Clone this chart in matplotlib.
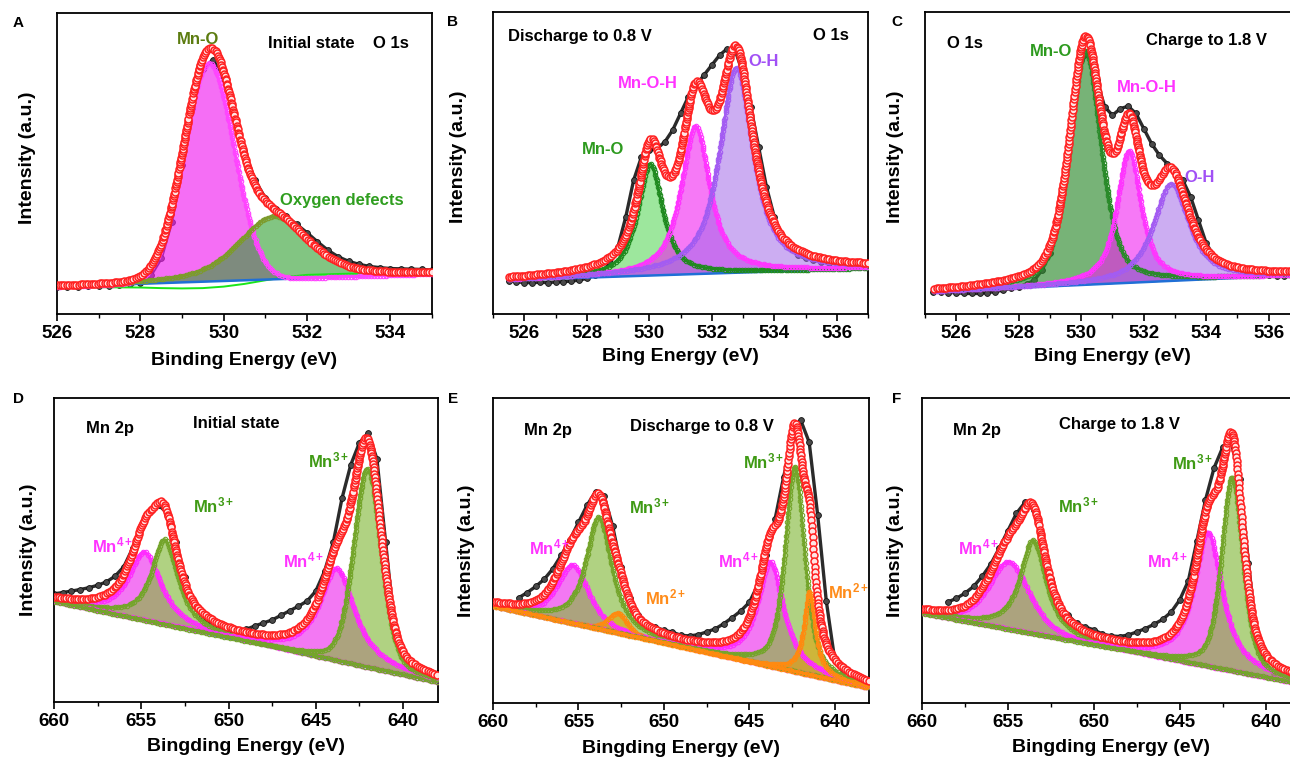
import numpy as np
import matplotlib
matplotlib.use('Agg')
import matplotlib.pyplot as plt
from matplotlib.ticker import MultipleLocator

plt.rcParams['font.family'] = ['Liberation Sans', 'DejaVu Sans']
plt.rcParams['font.weight'] = 'bold'
plt.rcParams['mathtext.fontset'] = 'custom'
plt.rcParams['mathtext.rm'] = 'Liberation Sans:bold'
plt.rcParams['mathtext.it'] = 'Liberation Sans:bold'
plt.rcParams['mathtext.bf'] = 'Liberation Sans:bold'

# O 1s, every 0.25 eV
A_range = [526.0, 535.0]
A_counts = [8.9, 9.0, 9.1, 9.2, 9.3, 9.4, 9.6, 9.9, 10.4, 12.8, 18.5, 30.5, 49.5,
            68.5, 81.5, 84.5, 78.0, 66.5, 54.0, 44.5, 38.5, 35.0, 32.5, 29.8, 27.0,
            24.0, 21.2, 19.0, 17.5, 16.5, 15.8, 15.4, 15.1, 15.0, 14.9, 14.8, 14.6]
B_range = [525.5, 537.0]
B_counts = [11.0, 10.7, 10.4, 10.4, 10.5, 10.4, 10.6, 10.7, 10.9, 11.2, 11.8,
            12.8, 14.3, 16.8, 22.3, 32.2, 44.3, 52.0, 54.2, 54.8, 57.0, 60.9, 66.4,
            71.9, 75.7, 79.1, 82.4, 85.7, 87.9, 87.3, 79.6, 68.6, 55.3, 42.1, 32.2,
            25.6, 21.7, 19.5, 18.4, 17.9, 17.3, 17.0, 16.8, 16.6, 16.5, 16.4, 16.4]
C_range = [525.25, 537.0]
C_counts = [7.4, 7.2, 7.1, 7.1, 6.8, 6.8, 6.8, 7.1, 7.4, 7.9, 8.5, 9.0,
            9.9, 11.2, 14.6, 20.1, 32.0, 49.5, 70.5, 84.0, 86.0, 77.4, 68.6, 65.8,
            68.0, 68.8, 66.4, 61.4, 56.4, 52.6, 49.8, 47.6, 44.3, 38.8, 31.1, 23.4,
            19.0, 16.8, 15.7, 14.8, 14.4, 14.0, 13.4, 12.9, 12.7, 12.6, 12.6, 12.6]
# Mn 2p, every 0.5 eV
D_range = [660.0, 638.0]
D_counts = [35.6, 36.0, 36.5, 37.0, 37.6, 38.4, 39.5, 41.4, 44.5, 50.5,
            57.5, 62.6, 64.8, 62.0, 52.5, 41.0, 32.0, 27.8, 25.6, 24.5,
            23.8, 23.4, 23.9, 25.0, 26.0, 27.0, 28.5, 30.0, 31.5, 33.2,
            36.5, 43.0, 52.5, 67.0, 78.0, 85.3, 88.5, 80.0, 52.5, 25.0,
            14.5, 12.3, 11.2, 10.2, 9.5]
E_range = [658.5, 639.5]
E_counts = [34.5, 36.2, 38.2, 40.6, 44.0, 48.5, 53.5, 59.2, 64.8, 69.3,
            68.0, 58.0, 44.5, 34.5, 29.0, 26.0, 24.8, 23.9, 23.2, 22.2,
            22.0, 22.4, 23.3, 24.3, 26.0, 28.0, 30.2, 33.0, 38.8, 48.6,
            60.2, 74.0, 86.5, 92.8, 85.5, 61.5, 33.5, 14.0, 10.5]
F_range = [658.5, 639.5]
F_counts = [33.1, 34.3, 36.0, 38.2, 41.5, 45.5, 50.8, 56.5, 62.2, 65.8,
            63.2, 52.5, 40.8, 32.8, 28.8, 26.1, 24.9, 24.0, 22.6, 22.0,
            21.8, 22.3, 23.3, 24.4, 25.8, 27.4, 29.8, 33.8, 40.0, 53.2,
            66.6, 77.1, 83.8, 85.5, 73.5, 46.0, 20.5, 12.0, 10.0]

# ---- fitted components (centre eV, height, FWHM eV, Lorentz fraction) ----
A_fit = [526.0, 535.0]
A_background = [9.1, 13.3]
A_kind = ['mno_a', 'defect']
A_pos = [529.65, 531.2]
A_height = [72.5, 20.9]
A_fwhm = [1.42, 2.0]
A_eta = [0.0, 0.5]
A_shirley_e = [526, 527, 528, 528.5, 529, 529.5, 530, 530.5, 531, 531.5, 532, 533, 535]
A_shirley = [9.0, 8.9, 8.8, 8.6, 8.5, 8.6, 9.1, 10.0, 11.2, 12.3, 13.0, 13.4, 13.4]

B_fit = [525.5, 537.0]
B_background = [11.2, 15.1]
B_kind = ['mno_b', 'mnoh', 'oh']
B_pos = [530.03, 531.48, 532.79]
B_height = [37.0, 49.0, 68.0]
B_fwhm = [0.96, 1.10, 1.28]
B_eta = [0.8, 0.85, 0.85]

C_fit = [525.3, 537.0]
C_background = [7.4, 12.9]
C_kind = ['mno_c', 'mnoh', 'oh']
C_pos = [530.13, 531.53, 532.88]
C_height = [77.6, 43.8, 32.2]
C_fwhm = [1.2, 0.92, 1.35]
C_eta = [0.5, 0.8, 0.8]

D_fit = [660.0, 638.0]
D_background = [33.0, 6.5]
D_kind = ['mn4', 'mn3', 'mn4', 'mn3']
D_pos = [654.8, 653.66, 643.79, 642.04]
D_height = [22.6, 28.1, 30.5, 65.5]
D_fwhm = [2.2, 1.8, 2.4, 1.85]
D_eta = [0.9, 0.9, 0.9, 0.3]

E_fit = [660.0, 638.0]
E_background = [31.8, 5.0]
E_kind = ['mn4', 'mn3', 'mn2', 'mn4', 'mn3', 'mn2']
E_pos = [655.32, 653.8, 652.69, 643.76, 642.33, 641.46]
E_height = [19.1, 36.7, 6.6, 34.3, 67.3, 27.3]
E_fwhm = [2.2, 1.8, 1.3, 1.8, 1.36, 0.78]
E_eta = [0.6, 0.85, 0.5, 0.9, 0.6, 1.0]

F_fit = [660.0, 638.0]
F_background = [29.4, 6.3]
F_kind = ['mn4', 'mn3', 'mn4', 'mn3']
F_pos = [654.92, 653.53, 643.35, 641.94]
F_height = [22.2, 30.8, 44.2, 63.7]
F_fwhm = [2.8, 1.8, 1.95, 1.46]
F_eta = [0.5, 0.9, 0.9, 0.5]

# line colour, fill colour, fill alpha
STYLE = {
    'mno_a': ('#ff45ff', '#f020f0', 0.65),
    'defect': ('#7d9b2c', '#2f9f2f', 0.6),
    'mno_b': ('#1f8a1f', '#3cd03c', 0.5),
    'mno_c': ('#2a8a2a', '#2e8b2e', 0.65),
    'mnoh': ('#ff35ff', '#f020f0', 0.6),
    'oh': ('#a35cf2', '#a36ae8', 0.55),
    'mn4': ('#ff2cff', '#ee30ee', 0.65),
    'mn3': ('#74a52b', '#86bb40', 0.65),
    'mn2': ('#ff8a10', '#e8a000', 0.55),
}

W, H = 1290.0, 760.0
fig = plt.figure(figsize=(12.9, 7.6), dpi=100)


def add_axes(left, top, right, bottom):
    return fig.add_axes([left / W, 1 - bottom / H, (right - left) / W, (bottom - top) / H])


def label(x, y, s, color='black', size=12, ha='left'):
    fig.text(x / W, 1 - y / H, s, color=color, fontsize=size, fontweight='bold', ha=ha, va='center')


def pvoigt(x, c, h, w, eta):
    g = np.exp(-4 * np.log(2) * ((x - c) / w) ** 2)
    l = 1 / (1 + 4 * ((x - c) / w) ** 2)
    return h * (eta * l + (1 - eta) * g)


def spectrum(ax, e_range, counts, fit, background, kinds, pos, height, fwhm, eta):
    energy = np.linspace(e_range[0], e_range[1], len(counts))
    ax.plot(energy, counts, color='#2b2b2b', lw=2.4, marker='o', ms=4.2, mfc='#4a4a4a',
            mec='#111111', mew=0.6, zorder=2)
    x = np.linspace(fit[0], fit[1], 900)
    bg = background[0] + (background[1] - background[0]) * (x - fit[0]) / (fit[1] - fit[0])
    total = bg.copy()
    comps = []
    for k, c, h, w, e in zip(kinds, pos, height, fwhm, eta):
        y = pvoigt(x, c, h, w, e)
        total = total + y
        line, fill, alpha = STYLE[k]
        ax.fill_between(x, bg, bg + y, color=fill, alpha=alpha, lw=0, zorder=3)
        comps.append((y, line))
    ax.plot(x, bg, color='#1f6fd6', lw=1.8, zorder=4)
    for y, line in comps:
        ax.plot(x, bg + y, color=line, lw=1.9, marker='o', ms=3.2, mfc='none', mew=0.8,
                markevery=0.006, zorder=4)
    ax.plot(x, total, color='#ff2020', lw=1.8, marker='o', ms=5, mfc='#ffe4e4', mec='#ff2020',
            mew=1.1, markevery=0.005, zorder=5)


def style(ax, xlim, major, xlabel, xlab_y, ylab_xy):
    ax.set_xlim(*xlim)
    ax.set_ylim(0, 100)
    ax.set_yticks([])
    ax.xaxis.set_major_locator(MultipleLocator(major))
    ax.xaxis.set_minor_locator(MultipleLocator(major / 2))
    ax.tick_params(axis='x', which='major', direction='out', length=5, width=1.2, labelsize=13.5, pad=3)
    ax.tick_params(axis='x', which='minor', direction='out', length=3, width=1.0)
    for s in ax.spines.values():
        s.set_linewidth(1.3)
    ax.set_xlabel(xlabel, fontsize=14, fontweight='bold', va='center')
    ax.xaxis.set_label_coords(0.5, xlab_y)
    ax.set_ylabel('Intensity (a.u.)', fontsize=14, fontweight='bold', va='center')
    ax.yaxis.set_label_coords(*ylab_xy)


GREEN = '#3f9a14'
MAG = '#ff33ff'
VIOLET = '#a150f5'
ORANGE = '#ff8c1a'

# ---- A ----
ax = add_axes(57, 13, 432, 314)
spectrum(ax, A_range, A_counts, A_fit, A_background, A_kind, A_pos, A_height, A_fwhm, A_eta)
ax.plot(A_shirley_e, A_shirley, color='#19e619', lw=1.4, zorder=3.5)
style(ax, (526, 535), 2, 'Binding Energy (eV)', -0.153, (-0.08, 0.52))
label(18, 23, 'A', size=11, ha='center')
label(198, 40, 'Mn-O', color='#5c7c10', ha='center')
label(268, 44, 'Initial state')
label(373, 44, 'O 1s')
label(280, 200, 'Oxygen defects', color='#2f9e1f')

# ---- B ----
ax = add_axes(493, 12, 868, 314)
spectrum(ax, B_range, B_counts, B_fit, B_background, B_kind, B_pos, B_height, B_fwhm, B_eta)
style(ax, (525, 537), 2, 'Bing Energy (eV)', -0.141, (-0.093, 0.52))
label(453, 22, 'B', size=11, ha='center')
label(508, 36, 'Discharge to 0.8 V')
label(813, 35, 'O 1s')
label(618, 83, 'Mn-O-H', color=MAG)
label(748, 61, 'O-H', color=VIOLET)
label(582, 149, 'Mn-O', color='#2d9a1e')

# ---- C ----
ax = add_axes(925, 12, 1300, 314)
spectrum(ax, C_range, C_counts, C_fit, C_background, C_kind, C_pos, C_height, C_fwhm, C_eta)
style(ax, (525, 537), 2, 'Bing Energy (eV)', -0.141, (-0.08, 0.52))
label(897, 22, 'C', size=11, ha='center')
label(947, 43, 'O 1s')
label(1030, 52, 'Mn-O', color='#2d9a1e')
label(1146, 40, 'Charge to 1.8 V')
label(1117, 88, 'Mn-O-H', color=MAG)
label(1184, 178, 'O-H', color=VIOLET)

# ---- D ----
ax = add_axes(54, 398, 438, 702)
spectrum(ax, D_range, D_counts, D_fit, D_background, D_kind, D_pos, D_height, D_fwhm, D_eta)
style(ax, (660, 638), 5, 'Bingding Energy (eV)', -0.147, (-0.067, 0.5))
label(18, 399, 'D', size=11, ha='center')
label(86, 428, 'Mn 2p')
label(193, 424, 'Initial state')
label(308, 460, r'Mn$^{3+}$', color=GREEN)
label(193, 505, r'Mn$^{3+}$', color=GREEN)
label(92, 545, r'Mn$^{4+}$', color=MAG)
label(283, 560, r'Mn$^{4+}$', color=MAG)

# ---- E ----
ax = add_axes(493, 398, 869, 703)
spectrum(ax, E_range, E_counts, E_fit, E_background, E_kind, E_pos, E_height, E_fwhm, E_eta)
style(ax, (660, 638), 5, 'Bingding Energy (eV)', -0.149, (-0.07, 0.5))
label(453, 399, 'E', size=11, ha='center')
label(524, 430, 'Mn 2p')
label(630, 426, 'Discharge to 0.8 V')
label(743, 461, r'Mn$^{3+}$', color=GREEN)
label(629, 506, r'Mn$^{3+}$', color=GREEN)
label(529, 547, r'Mn$^{4+}$', color=MAG)
label(718, 560, r'Mn$^{4+}$', color=MAG)
label(645, 597, r'Mn$^{2+}$', color=ORANGE)
label(828, 591, r'Mn$^{2+}$', color=ORANGE)

# ---- F ----
ax = add_axes(922, 398, 1300, 703)
spectrum(ax, F_range, F_counts, F_fit, F_background, F_kind, F_pos, F_height, F_fwhm, F_eta)
style(ax, (660, 638), 5, 'Bingding Energy (eV)', -0.147, (-0.071, 0.5))
label(897, 399, 'F', size=11, ha='center')
label(953, 430, 'Mn 2p')
label(1059, 425, 'Charge to 1.8 V')
label(1172, 462, r'Mn$^{3+}$', color=GREEN)
label(1058, 505, r'Mn$^{3+}$', color=GREEN)
label(958, 547, r'Mn$^{4+}$', color=MAG)
label(1147, 560, r'Mn$^{4+}$', color=MAG)

fig.savefig('out.png', dpi=100)
